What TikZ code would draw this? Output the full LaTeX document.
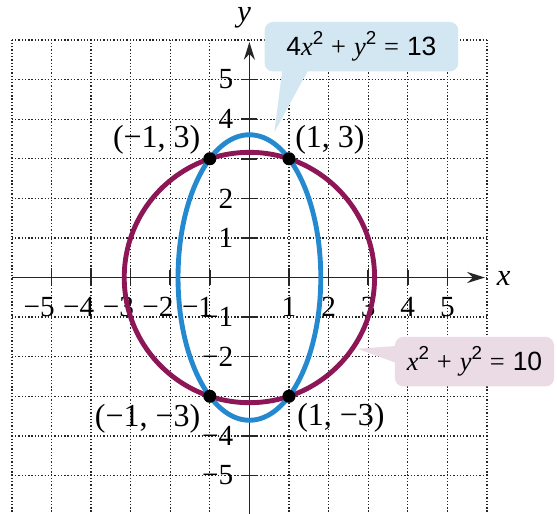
\documentclass[tikz,border=0pt]{standalone}
\usepackage{fontspec}
\setmainfont{Liberation Serif}
\newfontfamily\eqsans{Liberation Sans}
\usetikzlibrary{arrows.meta,positioning,calc}
\definecolor{GraphBlue}{HTML}{2589CF}
\definecolor{GraphPlum}{HTML}{8C1656}
\definecolor{NoteBlue}{HTML}{D3E7F2}
\definecolor{NotePlum}{HTML}{EADBE4}
\definecolor{GraphInk}{HTML}{262626}
\newcommand{\sqr}{\raisebox{0.42em}{\eqsans\fontsize{13.5}{13.5}\selectfont 2}}
\newcommand{\eqsp}{\hspace{0.3em}}

\begin{document}
\begin{tikzpicture}[
  gridline/.style={GraphInk,line width=0.95pt,dash pattern=on 0.95pt off 1.4pt},
  axis/.style={GraphInk,line width=1.1pt},
  axtick/.style={GraphInk,line width=1.1pt},
  ticklab/.style={inner sep=0pt,font=\rmfamily\fontsize{21}{24}\selectfont},
  ptlab/.style={inner sep=0pt,font=\rmfamily\fontsize{23}{26}\selectfont},
  axlab/.style={inner sep=0pt,font=\rmfamily\fontsize{22}{26}\selectfont\itshape},
  curve/.style={line width=3.5pt},
  dot/.style={circle,fill=black,inner sep=0pt,minimum size=0.33cm},
  note/.style={rounded corners=6pt,font=\rmfamily\fontsize{19}{22}\selectfont,minimum height=1.25cm},
]
\useasboundingbox (-6.30,-5.97) rectangle (7.77,7.01);
\draw[gridline] (-6,-6) grid (6,6);
% axes
\coordinate (xlo) at (-6,0);
\coordinate (xhi) at (5.95,0);
\coordinate (ylo) at (0,-6);
\coordinate (yhi) at (0,5.95);
\draw[axis,-{Stealth[length=4.5mm,width=2.8mm]}] (xlo) -- (xhi);
\draw[axis,-{Stealth[length=4.5mm,width=2.8mm]}] (ylo) -- (yhi);
\node[axlab] (xname) at (6.42,-0.03) {x};
\node[axlab] (yname) at (-0.13,6.55) {y};
\foreach \i in {-5,...,-1,1,2,...,5} {
  \draw[axtick] (\i,-0.2) -- (\i,0.2);
  \draw[axtick] (-0.2,\i) -- (0.2,\i);
}
\foreach \i in {1,...,5}
  \node[ticklab,anchor=north] at (\i,-0.5) {\i};
\foreach \i in {1,...,5}
  \node[ticklab,anchor=north east] at (-\i+0.09,-0.5) {−\i};
\foreach \i in {1,2,4,5} {
  \node[ticklab,anchor=east] at (-0.4,\i) {\i};
  \node[ticklab,anchor=east] at (-0.4,-\i) {−\i};
}
% callouts
\node[note,fill=NoteBlue,minimum width=4.89cm] (eqA) at (2.83,5.83)
  {{\eqsans 4}\textit{x}\sqr\eqsp+\eqsp\textit{y}\sqr\eqsp=\eqsp{\eqsans 13}};
\coordinate (tipA) at (0.63,3.67);
\fill[NoteBlue] ($(eqA.south west)+(0.46,0.1)$) -- (tipA) -- ($(eqA.south west)+(1.14,0.1)$) -- cycle;
\node[note,fill=NotePlum,anchor=west,inner xsep=0.3cm] (eqB) at (3.67,-2.125)
  {\textit{x}\sqr\eqsp+\eqsp\textit{y}\sqr\eqsp=\eqsp{\eqsans 10}};
\coordinate (tipB) at (2.73,-1.80);
\fill[NotePlum] ($(eqB.west)+(0.1,0.4)$) -- (tipB) -- ($(eqB.west)+(0.1,-0.055)$) -- cycle;
% curves
\draw[curve,GraphPlum] (0,0) circle (3.162);
\draw[curve,GraphBlue] (0,0) ellipse (1.803 and 3.606);
% intersection points
\node[dot] (pNW) at (-1,3) {};
\node[dot] (pNE) at (1,3) {};
\node[dot] (pSW) at (-1,-3) {};
\node[dot] (pSE) at (1,-3) {};
\node[ptlab,above left=-0.02cm and 0.11cm of pNW] (lNW) {(−1, 3)};
\node[ptlab,above right=-0.02cm and 0.03cm of pNE] (lNE) {(1, 3)};
\node[ptlab,below left=0.08cm and 0.11cm of pSW] (lSW) {(−1, −3)};
\node[ptlab,below right=0.05cm and 0.08cm of pSE] (lSE) {(1, −3)};
\end{tikzpicture}
\end{document}
